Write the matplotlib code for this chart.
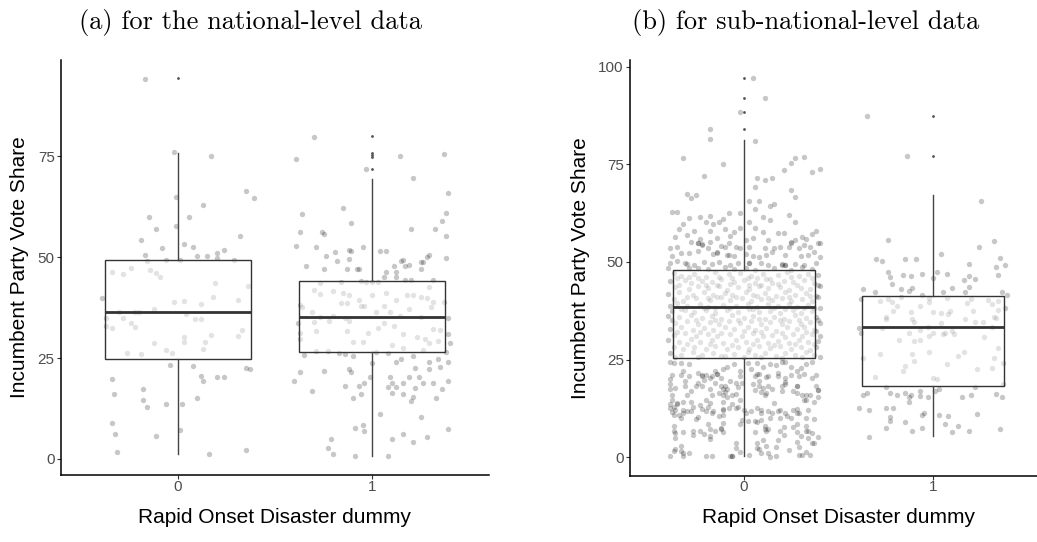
import matplotlib
matplotlib.use("Agg")
import matplotlib.pyplot as plt
import numpy as np

# ---------------- data ----------------
categories = ["0", "1"]
titles = ["(a) for the national-level data", "(b) for sub-national-level data"]
x_title = "Rapid Onset Disaster dummy"
y_title = "Incumbent Party Vote Share"

# box statistics (lower whisker, Q1, median, Q3, upper whisker) per category
a_whislo = [1.2, 0.7]
a_q1 = [24.8, 26.4]
a_med = [36.4, 35.3]
a_q3 = [49.4, 44.2]
a_whishi = [75.9, 69.4]
a_outliers = [[94.4], [80.0, 75.8, 75.3, 74.8, 71.8]]

b_whislo = [0.3, 5.3]
b_q1 = [25.4, 18.1]
b_med = [38.5, 33.3]
b_q3 = [47.8, 41.2]
b_whishi = [81.2, 67.2]
b_outliers = [[97.0, 91.9, 88.5, 84.0], [87.4, 77.2]]

# jittered observations: (horizontal jitter, vote share)
a0_points = [
    (-0.17, 94.3), (-0.02, 76.0), (0.17, 75.2), (-0.01, 65.0), (0.35, 66.5), (0.39, 64.8),
    (0.13, 62.9), (-0.15, 60.0), (0.06, 60.0), (-0.11, 57.1), (-0.01, 57.7), (0.32, 55.3),
    (-0.19, 54.3), (0.03, 53.2), (0.08, 52.6), (-0.08, 52.2), (0.24, 51.7), (-0.17, 50.5),
    (0.10, 50.4), (0.15, 50.4), (0.20, 51.1), (0.20, 49.9), (0.01, 49.4), (0.29, 49.4),
    (-0.06, 49.4), (-0.16, 49.0), (-0.24, 47.3), (-0.14, 46.8), (-0.34, 46.4), (-0.28, 45.9),
    (-0.11, 46.2), (-0.09, 45.0), (0.19, 43.6), (0.36, 42.9), (0.18, 40.2), (-0.39, 39.8),
    (-0.02, 39.0), (0.03, 39.2), (0.31, 39.4), (0.12, 38.3), (-0.30, 36.3), (-0.22, 36.3),
    (-0.20, 36.3), (-0.12, 37.2), (0.04, 35.9), (0.09, 34.6), (0.12, 34.6), (-0.37, 34.9),
    (-0.28, 34.9), (-0.24, 33.6), (-0.22, 32.8), (-0.34, 32.4), (-0.37, 33.0), (0.33, 31.9),
    (0.17, 30.7), (0.03, 30.1), (0.31, 30.5), (0.14, 28.9), (0.03, 28.9), (-0.12, 28.7),
    (-0.06, 26.9), (-0.03, 26.3), (0.13, 27.2), (-0.26, 26.2), (-0.19, 26.0), (-0.04, 23.2),
    (0.08, 23.1), (0.35, 22.5), (0.37, 22.2), (-0.34, 19.9), (0.12, 20.6), (0.13, 19.2),
    (0.20, 20.2), (0.24, 20.2), (-0.18, 17.3), (-0.33, 16.1), (0.10, 15.2), (-0.18, 14.5),
    (-0.16, 12.9), (-0.06, 13.6), (0.02, 13.6), (-0.34, 9.0), (0.01, 7.2), (-0.32, 6.1),
    (-0.11, 5.6), (-0.31, 1.8), (0.16, 1.3), (0.35, 2.1),
]
a1_points = [
    (-0.30, 79.9), (-0.39, 74.4), (-0.03, 71.8), (0.14, 75.2), (0.37, 75.7), (0.39, 65.8),
    (0.21, 69.7), (0.38, 61.0), (-0.36, 60.6), (-0.15, 62.1), (-0.11, 58.4), (0.36, 59.1),
    (0.32, 56.9), (0.20, 57.0), (-0.37, 56.2), (0.38, 55.3), (-0.26, 56.2), (-0.25, 55.7),
    (-0.39, 52.8), (-0.29, 52.6), (-0.05, 52.6), (-0.12, 51.7), (-0.11, 51.5), (0.04, 51.6),
    (0.07, 51.6), (0.29, 50.5), (0.28, 50.1), (0.38, 49.9), (-0.24, 50.4), (-0.19, 51.3),
    (-0.12, 49.5), (-0.18, 49.0), (0.16, 49.4), (0.15, 49.1), (0.11, 47.7), (0.19, 48.0),
    (0.17, 47.7), (0.25, 48.7), (0.26, 48.7), (0.25, 47.0), (-0.34, 47.9), (-0.25, 47.2),
    (-0.08, 47.2), (-0.13, 47.0), (-0.07, 47.0), (0.07, 46.4), (0.12, 46.4), (-0.27, 43.7),
    (-0.16, 43.9), (-0.06, 44.2), (-0.03, 43.9), (0.00, 43.9), (0.03, 43.9), (0.06, 45.2),
    (0.12, 45.2), (0.17, 44.4), (0.20, 44.4), (0.31, 44.4), (0.29, 42.7), (-0.30, 41.9),
    (-0.27, 40.9), (-0.20, 41.6), (-0.15, 41.1), (-0.12, 40.6), (-0.16, 38.6), (-0.13, 38.7),
    (-0.07, 39.5), (0.00, 40.6), (0.07, 41.2), (0.12, 39.4), (0.18, 40.6), (0.21, 40.6),
    (0.25, 40.2), (0.28, 39.8), (0.31, 39.0), (0.37, 39.0), (-0.37, 38.2), (-0.36, 37.6),
    (-0.31, 36.3), (-0.27, 35.2), (-0.20, 35.4), (-0.14, 34.9), (-0.12, 34.2), (-0.06, 37.8),
    (-0.04, 37.8), (0.02, 36.3), (0.06, 37.9), (0.09, 36.5), (0.14, 35.4), (0.19, 37.2),
    (0.25, 35.3), (0.30, 37.7), (0.35, 32.0), (-0.38, 33.8), (-0.37, 31.1), (-0.37, 29.6),
    (-0.30, 33.9), (-0.29, 31.7), (-0.22, 34.3), (-0.13, 31.8), (-0.10, 28.9), (-0.05, 28.9),
    (-0.02, 31.1), (0.03, 32.5), (0.06, 33.8), (0.11, 33.0), (0.16, 30.9), (0.23, 30.1),
    (0.27, 29.7), (0.29, 28.7), (0.31, 32.3), (0.34, 29.2), (0.39, 30.9), (0.40, 28.7),
    (0.39, 34.9), (-0.35, 25.7), (-0.29, 26.8), (-0.23, 26.8), (-0.17, 26.3), (-0.14, 25.9),
    (-0.10, 25.4), (0.02, 26.6), (0.10, 28.2), (0.16, 27.6), (0.26, 27.0), (0.38, 26.5),
    (0.00, 23.7), (0.08, 26.3), (0.12, 24.1), (0.15, 24.7), (0.21, 25.4), (0.29, 24.1),
    (0.34, 24.8), (0.39, 23.9), (0.35, 22.7), (0.29, 22.2), (0.22, 22.6), (0.19, 20.2),
    (0.24, 20.2), (0.31, 18.7), (0.36, 17.4), (0.39, 19.4), (0.09, 20.2), (0.10, 18.7),
    (0.12, 17.9), (0.16, 18.7), (0.16, 16.1), (0.08, 17.7), (0.10, 16.4), (0.22, 17.5),
    (0.21, 15.4), (0.20, 14.3), (0.26, 18.7), (0.33, 15.2), (-0.37, 21.5), (-0.25, 21.8),
    (-0.12, 22.3), (-0.11, 21.6), (-0.40, 19.2), (-0.31, 16.8), (-0.14, 18.1), (-0.10, 15.0),
    (-0.07, 18.1), (-0.06, 16.0), (-0.04, 18.7), (-0.01, 20.2), (0.04, 11.2), (-0.09, 7.7),
    (-0.05, 8.3), (-0.04, 6.9), (0.25, 10.3), (0.28, 5.3), (0.39, 7.5), (0.16, 6.1),
    (0.21, 4.2), (0.10, 5.0), (-0.21, 5.0), (-0.23, 2.7), (-0.20, 1.2), (-0.09, 0.6),
    (0.08, 0.7),
]
b0_points = [
    # above the box
    (0.05, 97.0), (0.11, 91.9), (-0.02, 88.5), (-0.18, 84.0), (-0.18, 81.4), (0.06, 81.0),
    (-0.32, 76.6), (-0.11, 75.0), (0.32, 76.8), (0.27, 76.5), (0.25, 75.3), (0.36, 73.0),
    (0.40, 73.9), (-0.21, 72.1), (0.07, 71.4), (0.11, 71.0), (0.15, 71.4), (0.21, 73.5),
    (0.06, 69.2), (0.25, 68.4), (-0.30, 67.3), (-0.28, 66.4), (-0.25, 67.2), (0.27, 66.5),
    (0.03, 65.7), (0.08, 65.7), (0.16, 64.8), (0.14, 64.2), (0.06, 63.6), (-0.38, 62.9),
    (-0.35, 62.7), (-0.08, 62.5), (-0.02, 62.5), (0.24, 61.9), (0.10, 61.6), (-0.18, 61.8),
    (-0.23, 61.5), (-0.29, 61.2), (-0.13, 60.3), (-0.11, 60.9), (-0.20, 60.1), (-0.16, 59.7),
    (-0.32, 59.7), (0.03, 60.1), (-0.02, 58.7), (0.14, 60.8), (0.06, 58.6), (0.10, 57.6),
    (0.27, 60.1), (-0.34, 58.4), (-0.26, 57.8), (-0.18, 57.8), (-0.10, 58.4), (-0.05, 57.6),
    (0.38, 57.9), (0.36, 57.1), (0.18, 57.3), (0.21, 57.3), (0.31, 56.3), (-0.36, 56.5),
    (-0.30, 56.9), (-0.23, 55.8), (-0.14, 56.2), (-0.07, 56.7), (0.01, 55.6), (0.05, 56.1),
    (0.13, 55.6), (0.25, 55.2), (0.27, 55.6), (0.32, 54.4), (0.33, 55.8), (0.39, 54.9),
    (0.40, 54.8), (-0.28, 55.0), (-0.24, 54.8), (-0.22, 54.4), (-0.19, 53.5), (-0.12, 54.1),
    (-0.10, 53.8), (-0.08, 54.8), (-0.04, 53.9), (-0.02, 53.5), (0.03, 53.7), (0.11, 53.5),
    (0.16, 53.5), (0.19, 53.9), (0.24, 53.7), (0.29, 53.5), (0.35, 53.9), (0.37, 52.6),
    (-0.35, 53.8), (-0.39, 53.5), (-0.38, 51.4), (-0.33, 52.2), (-0.29, 52.4), (-0.24, 52.9),
    (-0.16, 52.0), (-0.14, 52.5), (-0.09, 51.8), (-0.05, 51.5), (0.01, 52.0), (0.05, 51.4),
    (0.08, 51.2), (0.12, 51.8), (0.15, 52.5), (0.22, 51.8), (0.30, 51.4), (0.34, 51.8),
    (0.40, 51.2), (-0.39, 49.7), (-0.35, 50.3), (-0.31, 49.7), (-0.26, 49.2), (-0.21, 50.1),
    (-0.17, 49.5), (-0.13, 50.1), (-0.07, 49.2), (-0.03, 49.7), (0.03, 49.7), (0.09, 49.7),
    (0.13, 49.2), (0.20, 49.2), (0.22, 49.2), (0.27, 49.5), (0.32, 49.2), (0.38, 49.7),
    (-0.40, 48.4), (-0.29, 48.4), (-0.24, 48.4), (-0.19, 48.1), (-0.10, 48.6), (-0.05, 48.1),
    (0.01, 48.4), (0.06, 48.0), (0.16, 48.4), (0.25, 48.0), (0.31, 48.6), (0.36, 48.1),
    (-0.24, 54.9), (-0.22, 54.5), (-0.14, 52.4), (0.22, 49.3), (0.20, 49.4), (-0.30, 49.5),
    (-0.08, 51.7), (0.03, 49.6), (-0.18, 55.0), (0.25, 54.9),
    # inside the box
    (-0.37, 47.2), (-0.33, 46.5), (-0.26, 47.0), (-0.20, 46.2), (-0.15, 47.3), (-0.08, 46.8),
    (-0.02, 47.1), (0.04, 46.4), (0.10, 47.0), (0.18, 46.6), (0.23, 47.4), (0.29, 46.3),
    (0.34, 47.0), (0.39, 46.6), (-0.39, 45.0), (-0.31, 45.4), (-0.28, 44.6), (-0.22, 45.2),
    (-0.17, 44.8), (-0.12, 45.6), (-0.05, 44.9), (0.00, 45.3), (0.06, 44.7), (0.12, 45.5),
    (0.15, 44.6), (0.21, 45.1), (0.26, 44.8), (0.32, 45.4), (0.37, 44.5), (-0.36, 43.6),
    (-0.29, 43.1), (-0.24, 43.8), (-0.19, 43.2), (-0.13, 43.7), (-0.09, 42.9), (-0.03, 43.5),
    (0.03, 43.0), (0.08, 43.9), (0.13, 43.2), (0.19, 43.6), (0.24, 42.8), (0.30, 43.4),
    (0.35, 43.0), (0.40, 43.7), (-0.40, 41.8), (-0.34, 42.2), (-0.27, 41.6), (-0.21, 42.4),
    (-0.16, 41.5), (-0.10, 42.1), (-0.06, 41.4), (0.01, 42.3), (0.05, 41.6), (0.11, 42.0),
    (0.17, 41.3), (0.22, 42.2), (0.27, 41.5), (0.33, 42.0), (0.38, 41.2), (-0.37, 40.6),
    (-0.32, 40.1), (-0.25, 40.8), (-0.18, 40.3), (-0.14, 40.9), (-0.07, 40.2), (-0.01, 40.7),
    (0.04, 40.0), (0.09, 40.6), (0.15, 40.2), (0.20, 40.8), (0.25, 40.1), (0.31, 40.5),
    (0.36, 40.0), (0.39, 40.9), (-0.39, 38.8), (-0.35, 39.4), (-0.30, 38.6), (-0.23, 39.2),
    (-0.19, 38.5), (-0.11, 39.0), (-0.04, 38.7), (0.02, 39.3), (0.07, 38.4), (0.13, 39.1),
    (0.18, 38.6), (0.24, 39.3), (0.28, 38.5), (0.34, 39.0), (0.40, 38.3), (-0.38, 37.3),
    (-0.31, 37.8), (-0.26, 37.1), (-0.20, 37.6), (-0.15, 37.0), (-0.09, 37.7), (-0.03, 37.2),
    (0.03, 37.9), (0.08, 37.1), (0.14, 37.5), (0.19, 36.9), (0.26, 37.6), (0.30, 37.0),
    (0.36, 37.4), (-0.40, 36.2), (-0.34, 35.8), (-0.28, 36.4), (-0.22, 35.6), (-0.17, 36.1),
    (-0.12, 35.5), (-0.06, 36.3), (0.00, 35.7), (0.05, 36.2), (0.11, 35.4), (0.16, 36.0),
    (0.21, 35.5), (0.27, 36.3), (0.33, 35.6), (0.38, 36.0), (-0.36, 34.4), (-0.30, 34.9),
    (-0.24, 34.2), (-0.18, 34.7), (-0.13, 34.1), (-0.08, 34.8), (-0.02, 34.3), (0.04, 34.9),
    (0.09, 34.0), (0.14, 34.6), (0.20, 34.2), (0.24, 34.8), (0.30, 34.0), (0.35, 34.6),
    (0.40, 34.3), (-0.39, 32.8), (-0.33, 33.3), (-0.27, 32.6), (-0.21, 33.1), (-0.16, 32.5),
    (-0.10, 33.2), (-0.05, 32.7), (0.02, 33.4), (0.06, 32.6), (0.12, 33.0), (0.17, 32.4),
    (0.23, 33.2), (0.28, 32.7), (0.32, 33.4), (0.37, 32.5), (-0.37, 31.2), (-0.31, 31.7),
    (-0.25, 31.0), (-0.19, 31.5), (-0.14, 30.9), (-0.07, 31.6), (-0.01, 31.1), (0.05, 31.8),
    (0.10, 31.0), (0.15, 31.4), (0.22, 30.8), (0.26, 31.6), (0.31, 31.0), (0.36, 31.5),
    (0.40, 30.9), (-0.40, 29.9), (-0.34, 29.5), (-0.28, 30.2), (-0.23, 29.4), (-0.17, 30.0),
    (-0.11, 29.3), (-0.04, 29.9), (0.01, 29.5), (0.07, 30.1), (0.13, 29.2), (0.18, 29.8),
    (0.24, 29.3), (0.29, 30.0), (0.34, 29.4), (0.39, 29.8), (-0.37, 28.1), (-0.32, 27.6),
    (-0.26, 28.3), (-0.20, 27.8), (-0.15, 28.4), (-0.09, 27.7), (-0.03, 28.2), (0.03, 27.6),
    (0.08, 28.4), (0.14, 27.9), (0.19, 28.5), (0.25, 27.7), (0.30, 28.2), (0.35, 27.5),
    (0.38, 28.3), (-0.39, 26.6), (-0.33, 26.1), (-0.27, 26.8), (-0.22, 26.2), (-0.16, 26.7),
    (-0.10, 26.0), (-0.05, 26.5), (0.02, 26.9), (0.06, 26.1), (0.11, 26.6), (0.17, 26.0),
    (0.22, 26.7), (0.27, 26.2), (0.33, 26.8), (0.37, 26.1),
    (-0.35, 46.0), (-0.24, 45.8), (-0.13, 46.1), (-0.06, 45.9), (0.07, 46.0), (0.14, 45.7),
    (0.25, 46.2), (0.36, 45.8), (-0.29, 46.1), (0.02, 45.8), (-0.34, 44.2), (-0.20, 44.0),
    (-0.07, 44.3), (0.09, 44.1), (0.18, 44.4), (0.28, 44.0), (0.39, 44.2), (-0.14, 44.2),
    (0.03, 44.0), (-0.30, 41.0), (-0.19, 40.8), (-0.04, 41.1), (0.07, 41.2), (0.13, 40.8),
    (0.24, 41.0), (0.35, 41.3), (-0.12, 41.1), (-0.33, 38.0), (-0.21, 38.1), (-0.07, 38.2),
    (0.05, 38.0), (0.16, 38.2), (0.22, 38.0), (0.32, 38.1), (0.37, 38.3), (-0.15, 38.1),
    (-0.38, 35.1), (-0.25, 35.0), (-0.15, 35.2), (-0.03, 35.1), (0.08, 35.3), (0.19, 35.0),
    (0.29, 35.2), (0.39, 35.0), (-0.35, 32.0), (-0.23, 32.1), (-0.12, 31.9), (0.00, 32.2),
    (0.09, 32.1), (0.20, 31.9), (0.33, 32.0), (0.38, 32.2), (-0.30, 28.9), (-0.18, 29.0),
    (-0.06, 28.8), (0.05, 28.9), (0.16, 28.8), (0.27, 29.0), (0.37, 28.9), (-0.36, 25.7),
    (-0.24, 25.6), (-0.12, 25.8), (0.00, 25.6), (0.09, 25.7), (0.20, 25.5), (0.31, 25.7),
    (0.40, 25.6),
    # below the box
    (-0.39, 24.4), (-0.38, 21.1), (-0.37, 24.2), (-0.33, 24.2), (-0.29, 23.8), (-0.32, 22.0),
    (-0.29, 20.9), (-0.24, 21.5), (-0.22, 20.9), (-0.20, 21.1), (-0.17, 20.9), (-0.14, 21.4),
    (-0.15, 22.0), (-0.11, 22.5), (-0.09, 23.2), (-0.05, 23.8), (-0.02, 22.0), (0.02, 24.0),
    (0.07, 24.2), (0.10, 23.2), (0.14, 23.8), (0.17, 23.6), (0.20, 24.4), (0.22, 24.4),
    (0.25, 23.2), (0.28, 22.0), (0.30, 22.8), (0.33, 23.8), (0.36, 24.4), (0.38, 21.1),
    (0.29, 20.7), (0.22, 20.3), (0.18, 21.5), (0.13, 20.9), (0.08, 21.4), (0.06, 20.9),
    (0.04, 22.5), (-0.39, 18.7), (-0.38, 16.0), (-0.36, 17.8), (-0.31, 18.3), (-0.28, 17.0),
    (-0.24, 19.1), (-0.22, 18.3), (-0.18, 17.4), (-0.15, 19.1), (-0.12, 18.3), (-0.10, 16.8),
    (-0.09, 17.4), (-0.06, 16.0), (-0.04, 19.1), (-0.01, 19.1), (0.05, 18.7), (0.08, 18.3),
    (0.10, 17.8), (0.13, 18.3), (0.15, 17.4), (0.20, 18.3), (0.22, 18.7), (0.26, 17.0),
    (0.28, 18.3), (0.31, 16.0), (0.33, 15.8), (0.35, 16.0), (0.38, 18.3), (0.39, 15.4),
    (-0.30, 15.8), (-0.17, 15.8), (-0.11, 17.4), (-0.39, 13.7), (-0.37, 12.9), (-0.35, 13.5),
    (-0.32, 12.1), (-0.30, 11.7), (-0.27, 12.9), (-0.23, 13.3), (-0.19, 12.9), (-0.16, 11.8),
    (-0.11, 12.1), (-0.06, 13.7), (-0.03, 12.9), (0.00, 12.1), (0.07, 12.7), (0.09, 12.1),
    (0.13, 11.7), (0.15, 11.3), (0.19, 12.1), (0.22, 11.3), (0.26, 12.1), (0.29, 11.3),
    (0.34, 12.1), (-0.37, 10.9), (-0.33, 10.0), (-0.24, 10.4), (-0.11, 12.3), (0.28, 12.3),
    (-0.37, 8.0), (-0.36, 6.1), (-0.27, 6.7), (-0.23, 6.7), (-0.19, 8.4), (-0.18, 5.5),
    (-0.15, 6.7), (-0.12, 7.4), (-0.11, 8.8), (-0.01, 9.6), (0.02, 9.2), (0.06, 9.2),
    (0.09, 9.6), (0.11, 8.0), (0.13, 7.2), (0.19, 6.7), (0.21, 7.6), (0.26, 7.6),
    (0.28, 8.6), (0.30, 5.3), (0.34, 6.7), (0.36, 6.1), (0.39, 5.1), (0.33, 8.0),
    (-0.39, 0.4), (-0.36, 2.2), (-0.33, 2.8), (-0.32, 1.0), (-0.29, 1.0), (-0.20, 0.2),
    (-0.17, 0.2), (-0.06, 0.3), (-0.06, 0.4), (-0.04, 3.6), (-0.02, 1.4), (0.03, 0.6),
    (0.07, 3.5), (0.08, 2.2), (0.10, 4.4), (0.13, 1.0), (0.17, 0.2), (0.24, 1.8),
    (0.28, 3.9), (0.29, 0.6), (0.31, 0.6), (0.33, 1.4), (0.35, 0.6), (0.36, 3.5),
    (0.12, 2.8),
    (-0.39, 20.0), (-0.33, 21.1), (-0.31, 19.6), (-0.25, 18.3), (-0.22, 21.1), (-0.21, 19.7),
    (-0.18, 20.2), (-0.14, 21.2), (-0.12, 20.2), (-0.10, 18.1), (-0.07, 19.4), (-0.02, 20.8),
    (-0.03, 17.9), (0.07, 21.4), (0.08, 19.6), (0.12, 20.4), (0.18, 20.8), (0.22, 19.2),
    (0.25, 21.1), (0.28, 18.3), (0.32, 21.2), (0.36, 20.2), (0.39, 17.3), (-0.39, 17.5),
    (-0.38, 14.6), (-0.35, 13.8), (-0.32, 14.2), (-0.28, 14.2), (-0.20, 14.6), (-0.18, 13.8),
    (-0.13, 16.4), (-0.11, 15.9), (-0.09, 15.3), (-0.11, 14.0), (-0.04, 16.1), (-0.02, 14.6),
    (0.06, 17.1), (0.09, 16.7), (0.11, 15.9), (0.12, 16.3), (0.16, 13.8), (0.20, 16.9),
    (0.28, 16.3), (0.32, 14.6), (0.33, 14.6), (0.37, 14.2), (0.39, 17.1), (-0.39, 12.6),
    (-0.38, 11.5), (-0.36, 12.2), (-0.34, 10.9), (-0.32, 11.3), (-0.28, 11.8), (-0.25, 9.7),
    (-0.22, 12.3), (-0.20, 11.8), (-0.17, 11.3), (-0.13, 10.5), (-0.11, 10.9), (-0.08, 12.6),
    (-0.04, 12.6), (-0.02, 8.5), (0.01, 11.3), (0.04, 11.8), (0.07, 8.9), (0.09, 11.3),
    (0.14, 10.1), (0.18, 11.8), (0.19, 10.1), (0.23, 10.5), (0.25, 9.9), (0.28, 11.3),
    (0.33, 10.1), (0.37, 9.7), (-0.37, 6.8), (-0.36, 4.9), (-0.32, 6.4), (-0.27, 5.6),
    (-0.21, 6.0), (-0.18, 7.2), (-0.18, 4.6), (-0.12, 7.2), (-0.11, 6.4), (-0.04, 2.3),
    (0.06, 6.4), (0.07, 2.3), (0.11, 7.2), (0.12, 6.6), (0.17, 2.7), (0.18, 4.4),
    (0.21, 5.6), (0.28, 6.4), (0.29, 2.7), (0.33, 6.8), (0.34, 4.9), (0.37, 3.5),
    (-0.37, 1.6), (-0.33, 1.5), (-0.32, 0.2), (-0.07, 0.2), (0.09, 1.1), (0.14, 0.0),
]
b1_points = [
    (-0.35, 87.3), (-0.14, 77.2), (0.25, 65.7), (-0.24, 55.5), (0.32, 55.3), (0.24, 53.7),
    (0.04, 52.1), (-0.30, 50.8), (-0.27, 50.2), (-0.15, 50.7), (-0.09, 50.8), (0.35, 51.1),
    (0.38, 49.3), (0.33, 48.8), (0.19, 49.5), (-0.24, 47.5), (-0.23, 46.1), (-0.16, 46.7),
    (-0.12, 46.3), (-0.06, 47.0), (0.02, 47.4), (0.07, 47.0), (0.00, 45.9), (0.19, 46.5),
    (0.22, 45.6), (0.34, 46.7), (0.16, 45.3), (-0.22, 44.4), (-0.17, 43.0), (-0.13, 42.6),
    (-0.11, 43.4), (-0.06, 41.5), (0.05, 42.4), (0.10, 43.3), (0.17, 42.2), (0.19, 43.6),
    (-0.37, 43.0), (-0.31, 42.2), (0.36, 42.2), (0.39, 41.4), (-0.38, 40.4), (-0.28, 40.0),
    (-0.24, 40.4), (-0.22, 39.7), (-0.17, 41.1), (-0.02, 39.7), (-0.02, 40.7), (0.07, 40.7),
    (0.18, 39.4), (0.20, 40.4), (0.29, 40.2), (0.31, 39.1), (0.34, 39.9), (0.38, 38.2),
    (-0.19, 38.7), (-0.21, 37.4), (-0.25, 36.0), (-0.25, 35.4), (-0.11, 35.4), (-0.10, 34.7),
    (-0.12, 37.1), (-0.07, 38.7), (0.00, 37.1), (0.04, 36.8), (0.08, 36.6), (0.09, 37.4),
    (0.04, 34.4), (0.17, 35.3), (0.21, 37.5), (0.22, 34.6), (0.26, 34.6), (0.32, 35.9),
    (0.33, 35.6), (0.34, 37.6), (-0.39, 33.0), (-0.38, 31.9), (-0.27, 33.0), (-0.13, 31.9),
    (-0.07, 32.6), (-0.03, 33.3), (-0.02, 31.1), (0.00, 31.9), (0.05, 31.5), (0.06, 31.7),
    (0.10, 32.2), (0.11, 31.5), (0.31, 33.4), (-0.18, 30.1), (-0.10, 29.7), (-0.07, 29.9),
    (0.27, 30.7), (0.34, 28.0), (-0.37, 25.5), (-0.28, 26.3), (-0.11, 26.3), (-0.10, 24.7),
    (-0.02, 27.0), (0.07, 23.8), (0.13, 25.9), (0.16, 27.0), (-0.16, 22.0), (-0.15, 23.3),
    (0.23, 22.6), (0.31, 22.9), (0.32, 25.5), (0.37, 24.0), (-0.31, 20.6), (0.00, 20.2),
    (0.02, 20.1), (0.37, 18.7), (-0.37, 15.9), (-0.35, 16.5), (-0.25, 17.9), (-0.23, 16.3),
    (-0.19, 16.0), (-0.15, 16.5), (-0.13, 15.5), (-0.12, 15.9), (-0.07, 17.0), (-0.07, 15.7),
    (-0.03, 15.5), (0.01, 16.9), (0.03, 17.4), (0.15, 15.3), (0.20, 15.8), (0.22, 17.9),
    (0.33, 16.1), (0.36, 15.3), (-0.13, 14.2), (-0.39, 12.6), (-0.34, 12.1), (-0.25, 12.5),
    (-0.21, 12.7), (-0.23, 10.3), (-0.23, 9.3), (-0.06, 10.8), (-0.05, 11.3), (0.03, 10.8),
    (0.08, 10.6), (0.23, 11.1), (-0.15, 8.9), (0.06, 8.5), (0.13, 8.0), (-0.25, 7.5),
    (-0.06, 7.4), (-0.11, 6.6), (0.10, 6.4), (0.19, 6.6), (0.35, 7.2), (-0.34, 5.2),
]

# ---------------- styling ----------------
FONT = ["Liberation Sans", "DejaVu Sans"]
TITLE_FONT = ["cmr10", "DejaVu Serif"]
TICK_COLOR = "#4D4D4D"
plt.rcParams["axes.unicode_minus"] = False

fig = plt.figure(figsize=(10.37, 5.42), dpi=100)
ax_a = fig.add_axes([61 / 1037, 67 / 542, 428 / 1037, 415 / 542])
ax_b = fig.add_axes([630 / 1037, 66.5 / 542, 417 / 1037, 415.5 / 542])


def draw_panel(ax, pts_list, whislo, q1, med, q3, whishi, outliers, ylim, yticks):
    for i, pts in enumerate(pts_list):
        jit = np.array([p[0] for p in pts])
        val = np.array([p[1] for p in pts])
        ax.scatter(i + jit, val, s=15, color="black", alpha=0.22, linewidths=0, zorder=1)
    stats = []
    for i, cat in enumerate(categories):
        stats.append(dict(whislo=whislo[i], q1=q1[i], med=med[i], q3=q3[i],
                          whishi=whishi[i], fliers=outliers[i], label=cat))
    ax.bxp(stats, positions=range(len(categories)), widths=0.75, patch_artist=True,
           showcaps=False, manage_ticks=False,
           boxprops=dict(facecolor=(1, 1, 1, 0.5), edgecolor="#333333", linewidth=1.0),
           medianprops=dict(color="#333333", linewidth=2.0),
           whiskerprops=dict(color="#444444", linewidth=1.0),
           flierprops=dict(marker="o", markersize=1.0, markerfacecolor="#555555",
                           markeredgecolor="#555555", linestyle="none"),
           zorder=2)
    ax.set_xlim(-0.6, 1.6)
    ax.set_ylim(*ylim)
    ax.set_xticks(range(len(categories)))
    ax.set_xticklabels(categories)
    ax.set_yticks(yticks)
    ax.set_yticklabels([str(t) for t in yticks])
    for side in ["top", "right"]:
        ax.spines[side].set_visible(False)
    for side in ["left", "bottom"]:
        ax.spines[side].set_linewidth(1.1)
        ax.spines[side].set_color("black")
    ax.tick_params(axis="both", length=3.0, width=0.8, color="#333333",
                   labelcolor=TICK_COLOR, labelsize=11)
    ax.tick_params(axis="x", pad=0.5)
    ax.tick_params(axis="y", pad=1.5)
    for lab in ax.get_xticklabels() + ax.get_yticklabels():
        lab.set_fontfamily(FONT)
    ax.set_xlabel(x_title, fontsize=15, family=FONT, color="black", labelpad=10)
    ax.set_ylabel(y_title, fontsize=15, family=FONT, color="black", labelpad=6)


draw_panel(ax_a, [a0_points, a1_points], a_whislo, a_q1, a_med, a_q3, a_whishi, a_outliers,
           (-4.0, 98.9), [0, 25, 50, 75])
draw_panel(ax_b, [b0_points, b1_points], b_whislo, b_q1, b_med, b_q3, b_whishi, b_outliers,
           (-4.7, 101.7), [0, 25, 50, 75, 100])

fig.text(250 / 1037, 1 - 22 / 542, titles[0], ha="center", va="center",
         fontsize=19, family=TITLE_FONT)
fig.text(806 / 1037, 1 - 22 / 542, titles[1], ha="center", va="center",
         fontsize=19, family=TITLE_FONT)

fig.savefig("out.png", dpi=100)
